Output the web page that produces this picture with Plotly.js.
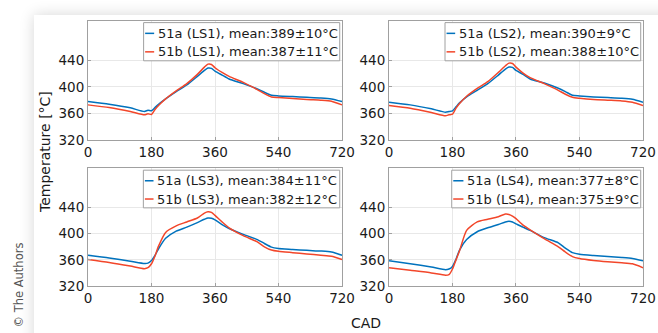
<!DOCTYPE html>
<html><head><meta charset="utf-8">
<script src="https://cdn.plot.ly/plotly-3.0.1.min.js"></script>
<style>
html,body{margin:0;padding:0;background:#fff;width:658px;height:333px;overflow:hidden;position:relative}
#card{position:absolute;left:34px;top:15px;width:700px;height:400px;background:#fff;box-shadow:0 0 14px rgba(0,0,0,0.16)}
#plot{position:absolute;left:0;top:0;width:658px;height:333px}
</style></head>
<body><div id="card"></div><div id="plot"></div>
<script>
const cad = [0, 60, 120, 160, 170, 180, 190, 200, 220, 250, 280, 310, 330, 340, 350, 360, 380, 400, 440, 480, 500, 520, 540, 580, 620, 660, 690, 720];
const ls1_a = [378, 374, 368.5, 363, 365, 364, 369, 374, 382, 393, 403, 416, 425, 428.5, 428, 424, 418, 412, 405, 397, 392, 387.5, 386.5, 385.5, 384.5, 383.5, 382, 378];
const ls1_b = [373, 369, 363, 358, 359.5, 358.5, 366, 372, 382, 394, 405, 419, 430, 434.5, 434, 429, 422, 416, 407, 396, 390, 385, 384, 382.5, 381, 380, 378.5, 373];
const ls2_a = [377, 373, 367, 362, 363, 364, 370, 376, 385, 395, 405, 418, 427, 430, 429.5, 425, 419, 412, 406, 398, 393, 387.5, 386.5, 385, 384, 383, 381.5, 377];
const ls2_b = [372, 368, 361.5, 356.5, 358, 359, 368, 375, 386, 398, 408, 422, 432, 436, 435.5, 430, 421, 414, 405, 395, 389, 384.5, 383, 381, 380, 379, 377, 372];
const ls3_a = [367, 363, 358, 354.5, 355, 359, 367, 377, 393, 404, 410, 417, 422, 424, 423.5, 421, 414, 408, 399, 391, 385, 379.5, 377.5, 376, 374.5, 373.5, 372, 367];
const ls3_b = [360.5, 356, 350.5, 346.5, 348, 354, 366, 381, 402, 412, 418, 424, 431.5, 433.5, 432.5, 428, 418, 409, 397, 387.5, 380, 375, 373, 371, 369, 367, 365.5, 360.5];
const ls4_a = [358.5, 354, 349, 345, 346, 350, 361, 375, 391, 403, 409, 414, 418, 419, 418, 415, 410, 405, 394, 386, 378, 371, 368.5, 366.5, 365, 363.5, 362, 358.5];
const ls4_b = [348, 344, 340, 336.5, 337.5, 346, 360, 374, 405, 418, 422, 426, 430, 429.5, 427, 423, 413, 406, 392.5, 380, 372, 365, 362, 359, 357, 355.5, 354, 348];
const labelsA = ['51a (LS1), mean:389±10°C', '51a (LS2), mean:390±9°C', '51a (LS3), mean:384±11°C', '51a (LS4), mean:377±8°C'];
const labelsB = ['51b (LS1), mean:387±11°C', '51b (LS2), mean:388±10°C', '51b (LS3), mean:382±12°C', '51b (LS4), mean:375±9°C'];
const xTicks = [0, 180, 360, 540, 720];
const yTicks = [320, 360, 400, 440];

const seriesA = [ls1_a, ls2_a, ls3_a, ls4_a];
const seriesB = [ls1_b, ls2_b, ls3_b, ls4_b];
const BLUE = '#0072BD', RED = '#F2462A';
const FONT = 'DejaVu Sans';
const xDom = [[0.1337, 0.5198], [0.5912, 0.9772], [0.1337, 0.5198], [0.5912, 0.9772]];
const yDom = [[0.5796, 0.9378], [0.5796, 0.9378], [0.1411, 0.4946], [0.1411, 0.4946]];
const boxL = [0.219, 0.2205, 0.218, 0.2469];
const textL = [0.2665, 0.2665, 0.264, 0.299];

const traces = [];
const layout = {
  width: 658, height: 333,
  margin: {l: 0, r: 0, t: 0, b: 0},
  paper_bgcolor: 'rgba(0,0,0,0)', plot_bgcolor: '#fff',
  showlegend: false,
  font: {family: FONT, color: '#1a1a1a'},
  shapes: [], annotations: []
};
for (let i = 0; i < 4; i++) {
  const n = i === 0 ? '' : String(i + 1);
  const xa = 'x' + n, ya = 'y' + n;
  traces.push({x: cad, y: seriesA[i], xaxis: xa, yaxis: ya, mode: 'lines', line: {color: BLUE, width: 1.5, shape: 'spline', smoothing: 0.6}});
  traces.push({x: cad, y: seriesB[i], xaxis: xa, yaxis: ya, mode: 'lines', line: {color: RED, width: 1.5, shape: 'spline', smoothing: 0.6}});
  layout['xaxis' + n] = {domain: xDom[i], anchor: ya, range: [0, 720], tickvals: xTicks, ticktext: xTicks.map(String),
    showline: true, mirror: true, linecolor: '#a0a0a0', linewidth: 1, showgrid: true, gridcolor: '#e8e8e8', zeroline: false,
    ticks: 'inside', ticklen: 3, tickcolor: '#a0a0a0', tickfont: {family: FONT, size: 13.5, color: '#1a1a1a'}, fixedrange: true};
  layout['yaxis' + n] = {domain: yDom[i], anchor: xa, range: [320, 500], tickvals: yTicks, ticktext: yTicks.map(String),
    showline: true, mirror: true, linecolor: '#a0a0a0', linewidth: 1, showgrid: true, gridcolor: '#e8e8e8', zeroline: false,
    ticks: 'inside', ticklen: 3, tickcolor: '#a0a0a0', tickfont: {family: FONT, size: 13.5, color: '#1a1a1a'}, fixedrange: true};
  const xr = xa + ' domain', yr = ya + ' domain';
  layout.shapes.push({type: 'rect', xref: xr, yref: yr, x0: boxL[i], x1: 0.991, y0: 0.664, y1: 0.984,
    line: {color: '#a0a0a0', width: 1}, fillcolor: '#fff', layer: 'above'});
  const rows = [[0.894, BLUE, labelsA[i]], [0.739, RED, labelsB[i]]];
  rows.forEach(r => {
    layout.shapes.push({type: 'line', xref: xr, yref: yr, x0: boxL[i] + 0.006, x1: textL[i] - 0.006, y0: r[0], y1: r[0],
      line: {color: r[1], width: 1.5}, layer: 'above'});
    layout.annotations.push({xref: xr, yref: yr, x: textL[i], y: r[0], xanchor: 'left', yanchor: 'middle',
      text: r[2], showarrow: false, font: {family: FONT, size: 13, color: '#1a1a1a'}});
  });
}
layout.annotations.push({xref: 'paper', yref: 'paper', x: 45 / 658, y: (333 - 152) / 333, xanchor: 'center', yanchor: 'middle',
  text: 'Temperature [°C]', textangle: -90, showarrow: false, font: {family: FONT, size: 14, color: '#1a1a1a'}});
layout.annotations.push({xref: 'paper', yref: 'paper', x: 365.5 / 658, y: (333 - 323) / 333, xanchor: 'center', yanchor: 'middle',
  text: 'CAD', showarrow: false, font: {family: FONT, size: 14, color: '#1a1a1a'}});
layout.annotations.push({xref: 'paper', yref: 'paper', x: 18 / 658, y: (333 - 285.5) / 333, xanchor: 'center', yanchor: 'middle',
  text: '© The Authors', textangle: -90, showarrow: false, font: {family: FONT, size: 11.5, color: '#555'}});

Plotly.newPlot('plot', traces, layout, {staticPlot: true, displayModeBar: false});
</script></body></html>
